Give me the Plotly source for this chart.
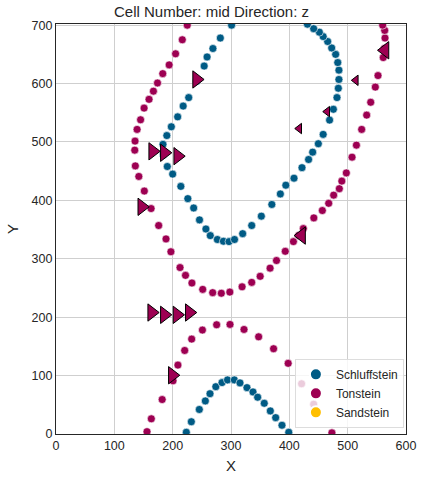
import plotly.graph_objects as go

# ---- data ----
schluff_x = [301, 281.7, 269, 259, 254, 241, 227.5, 218, 208.6, 197.7, 190, 183.4, 184, 190.8, 200,
             214, 226, 236, 246, 257, 264.5, 276.6, 287, 296.6, 306, 320, 335.5, 352, 370,
             384.6, 394, 408, 421.7, 433, 440, 449.7, 458, 469, 475.5, 481.7, 484, 485, 485,
             483, 479.4, 472.6, 465.7, 458, 451.5, 441.7, 431,
             223.4, 232, 245.7, 256, 264, 274, 284.6, 294, 305.7, 315.4, 327.4, 337.7, 345.7,
             357, 367.4, 376.6, 387.4, 399]
schluff_y = [700, 678, 660, 645.6, 630, 604, 576, 561.5, 543, 526, 511, 496, 478, 458, 445,
             424, 403, 387, 366.6, 351, 339.7, 333, 330, 329.4, 333, 343, 357, 373, 393,
             411, 426, 438, 456, 470, 482.6, 497, 513, 537.5, 556, 576, 592, 607, 623,
             636, 650, 661, 672, 680.5, 688, 694, 701.7,
             3, 21, 42, 56.6, 69, 81, 88, 92.6, 92.6, 87.5, 79.4, 72, 63,
             52.6, 39.5, 28, 15, 3]

ton_x = [225, 216.5, 205, 194, 183, 174, 167, 159.5, 151, 145, 139, 135.5, 135, 136, 142, 151.4,
         163, 176, 188.6, 197, 212.6, 222, 233, 251.5, 268.6, 283.4, 298, 319, 335.5, 350,
         367, 378, 393, 407, 416, 424, 442, 456.6, 467.5, 476, 485.7, 490, 497.7, 507.5,
         515, 524, 532.6, 539.5, 547.4, 552, 561, 563, 564, 563.5, 560,
         156, 163.4, 182, 200.6, 209, 220.6, 232.6, 251, 275.4, 298.3, 322.3, 347.4, 373,
         398, 421, 441.7, 473]
ton_y = [700, 675, 651, 632, 617, 601, 587, 573, 558, 538, 521.5, 501.5, 486, 459, 441, 416,
         386, 357, 334, 312, 285, 271.6, 258.5, 247.6, 242, 241, 243, 252, 259.6, 270,
         284, 297, 312.8, 329.4, 340, 351.7, 370, 382.6, 395, 409, 420, 433, 447, 474,
         494.6, 521.5, 546, 568, 594, 613.7, 644.5, 660, 678, 691, 700,
         4, 26, 59, 91, 118, 143, 162.5, 178, 187, 187.6, 179, 166.4, 146,
         121, 86, 51, 2]

sand_x = []
sand_y = []

# triangle markers (direction, magnitude)
tri_x = [241, 165.7, 185.7, 208.6, 147, 164, 185.7, 207.4, 228.5, 199.4, 564, 421, 514, 465, 417]
tri_y = [607, 484, 481.5, 475.7, 389, 208, 204, 204, 208, 100.6, 657, 339.7, 605.6, 552, 523]
tri_dir = ["right", "right", "right", "right", "right", "right", "right", "right", "right",
           "right", "left", "left", "left", "left", "left"]
tri_mag = ["big", "big", "big", "big", "big", "big", "big", "big", "big", "big",
           "big", "big", "small", "small", "small"]

BLUE = "#005b85"
MAG = "#9d0052"
YEL = "#ffbf00"

fig = go.Figure()
fig.add_trace(go.Scatter(x=schluff_x, y=schluff_y, mode="markers", name="Schluffstein",
                         marker=dict(color=BLUE, size=8, opacity=1,
                                     line=dict(color="white", width=0.6))))
fig.add_trace(go.Scatter(x=ton_x, y=ton_y, mode="markers", name="Tonstein",
                         marker=dict(color=MAG, size=8, opacity=1,
                                     line=dict(color="white", width=0.6))))
fig.add_trace(go.Scatter(x=sand_x if sand_x else [None], y=sand_y if sand_y else [None],
                         mode="markers", name="Sandstein",
                         marker=dict(color=YEL, size=8, opacity=1,
                                     line=dict(color="white", width=0.6))))

sizes = {"big": 15, "small": 9}
fig.add_trace(go.Scatter(
    x=tri_x, y=tri_y, mode="markers", showlegend=False,
    marker=dict(symbol=["triangle-" + d for d in tri_dir],
                size=[sizes[m] for m in tri_mag], opacity=1,
                color=MAG, line=dict(color="black", width=1))))

axis_common = dict(showgrid=True, gridcolor="#cfcfcf", gridwidth=1, zeroline=False,
                   showline=True, mirror=True, linecolor="#262626", linewidth=1.3,
                   ticks="", tickfont=dict(size=12.5, color="#262626"),
                   title_font=dict(size=15, color="#262626"))

fig.update_layout(
    width=423, height=481,
    margin=dict(l=56, r=17, t=24, b=47),
    paper_bgcolor="white", plot_bgcolor="white",
    font=dict(family="Liberation Sans, Arial, sans-serif", color="#262626"),
    title=dict(text="Cell Number: mid Direction: z", x=0.5, xanchor="center",
               yref="container", y=1 - 12 / 481, yanchor="middle",
               font=dict(size=15, color="#262626")),
    xaxis=dict(range=[0, 600], tickvals=[0, 100, 200, 300, 400, 500, 600],
               title=dict(text="X", standoff=8), automargin=False, **axis_common),
    yaxis=dict(range=[0, 702], tickvals=[0, 100, 200, 300, 400, 500, 600, 700],
               title=dict(text="Y", standoff=9), automargin=False, **axis_common),
    legend=dict(x=0.994, y=0.015, xanchor="right", yanchor="bottom",
                bgcolor="rgba(255,255,255,0.8)", bordercolor="#dddddd", borderwidth=1,
                font=dict(size=12, color="#262626"), itemsizing="constant"),
)

fig.write_html("out.html", config={"displayModeBar": False},
               post_script="document.body.style.margin='0px';document.body.style.overflow='hidden';")
